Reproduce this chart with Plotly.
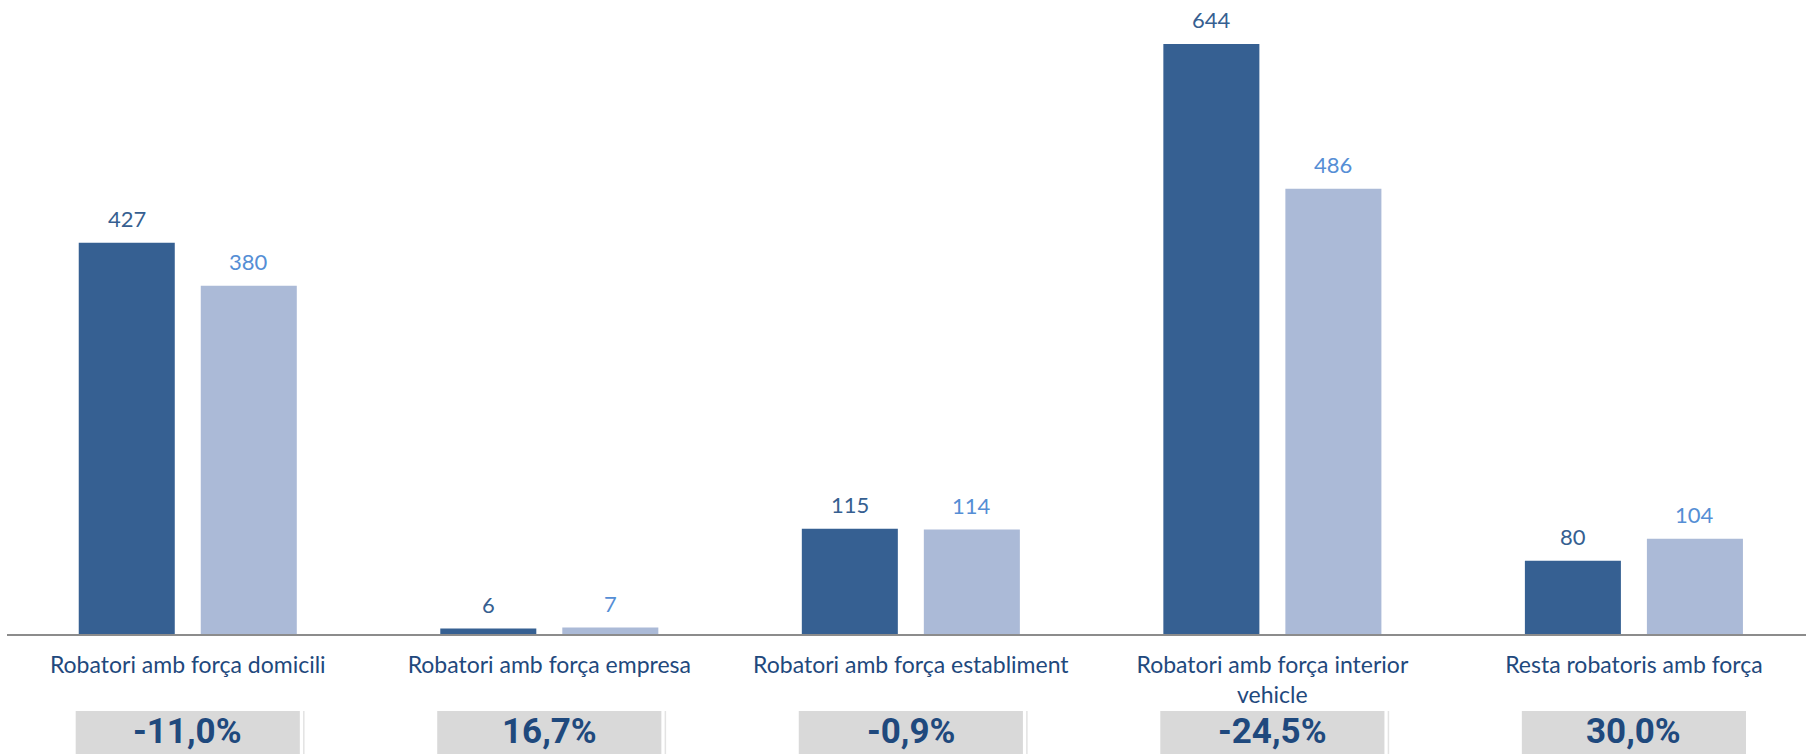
import plotly.graph_objects as go

categories = [
    "Robatori amb força domicili",
    "Robatori amb força empresa",
    "Robatori amb força establiment",
    "Robatori amb força interior<br>vehicle",
    "Resta robatoris amb força",
]
series_prev = [427, 6, 115, 644, 80]
series_curr = [380, 7, 114, 486, 104]

DARK = "#366092"
LIGHT = "#ABBAD7"
DARK_TXT = "#365F91"
LIGHT_TXT = "#558ED5"
NAVY = "#1F497D"

def pct(a, b):
    v = (b - a) / a * 100
    return f"{v:.1f}%".replace(".", ",")

changes = [pct(a, b) for a, b in zip(series_prev, series_curr)]

fig = go.Figure()
fig.add_trace(go.Bar(x=categories, y=series_prev, name="Anterior",
                     marker=dict(color=DARK, line=dict(width=0))))
fig.add_trace(go.Bar(x=categories, y=series_curr, name="Actual",
                     marker=dict(color=LIGHT, line=dict(width=0))))

annotations = []
for i, c in enumerate(categories):
    annotations.append(dict(x=c, y=series_prev[i], xref="x", yref="y", text=str(series_prev[i]),
                            showarrow=False, yanchor="bottom", xshift=-61, yshift=9,
                            font=dict(family="Lato", size=22, color=DARK_TXT)))
    annotations.append(dict(x=c, y=series_curr[i], xref="x", yref="y", text=str(series_curr[i]),
                            showarrow=False, yanchor="bottom", xshift=61, yshift=9,
                            font=dict(family="Lato", size=22, color=LIGHT_TXT)))
    annotations.append(dict(x=c, y=-0.1893, xref="x", yref="paper", text=f"<b>{changes[i]}</b>",
                            showarrow=False, yanchor="bottom",
                            font=dict(family="Roboto", size=35, color=NAVY)))

shapes = []
for i in range(len(categories)):
    shapes.append(dict(type="rect", xref="x", yref="paper", x0=i - 0.31, x1=i + 0.31,
                       y0=-0.1215, y1=-0.21, fillcolor="#D9D9D9", line=dict(width=0), layer="below"))
    if i < len(categories) - 1:
        shapes.append(dict(type="line", xref="x", yref="paper", x0=i + 0.321, x1=i + 0.321,
                           y0=-0.1215, y1=-0.21, line=dict(color="#E3E3E3", width=1.5)))

fig.update_layout(
    width=1806, height=754,
    margin=dict(l=7, r=0, t=0, b=120),
    paper_bgcolor="white", plot_bgcolor="white",
    barmode="group", bargap=0.325, bargroupgap=0.213,
    showlegend=False,
    annotations=annotations, shapes=shapes,
)
fig.update_xaxes(range=[-0.5, 4.476], showline=True, linecolor="#8C8C8C", linewidth=2,
                 ticks="", ticklabelstandoff=9,
                 tickfont=dict(family="Lato", size=23, color=NAVY), showgrid=False)
fig.update_yaxes(range=[0, 692], visible=False, showgrid=False, zeroline=False)

fig.write_html("out.html", config={"displayModeBar": False},
               post_script="document.body.style.margin='0';document.body.style.overflow='hidden';")
